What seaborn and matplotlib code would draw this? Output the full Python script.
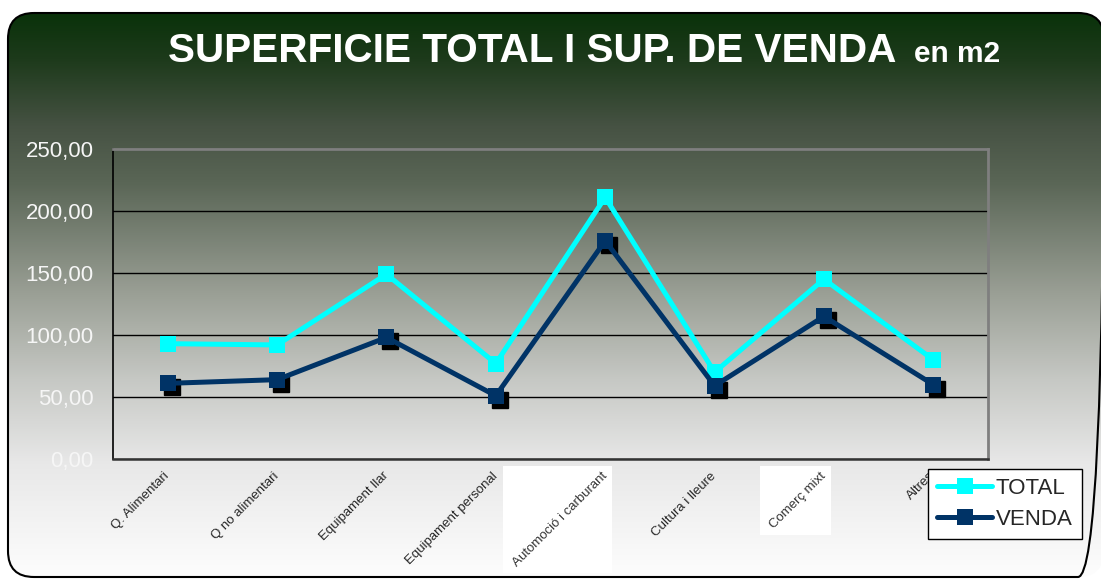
import numpy as np
import pandas as pd
import matplotlib
matplotlib.use('Agg')
import matplotlib.pyplot as plt
import matplotlib.transforms as mtransforms
from matplotlib.colors import LinearSegmentedColormap
from matplotlib.patches import FancyBboxPatch, Rectangle
from matplotlib.lines import Line2D
import seaborn as sns

# Data
categories = ['Q. Alimentari', 'Q no alimentari', 'Equipament llar', 'Equipament personal',
              'Automoció i carburant', 'Cultura i lleure', 'Comerç mixt', 'Altres']
total = [93, 92, 149, 77, 211, 70, 145, 80]
venda = [61, 64, 98, 51, 176, 59, 115, 60]
y_ticks = [0, 50, 100, 150, 200, 250]
boxed_labels = ['Automoció i carburant', 'Comerç mixt']

df = pd.DataFrame({
    'cat': categories * 2,
    'value': total + venda,
    'serie': ['TOTAL'] * len(categories) + ['VENDA'] * len(categories),
})

sns.set_style('white')
plt.rcParams['font.family'] = ['Liberation Sans', 'DejaVu Sans']

W, H = 1101, 579
fig = plt.figure(figsize=(W / 100, H / 100), dpi=100)
fig.patch.set_facecolor('white')

# background panel with rounded corners and green -> white gradient
bg = fig.add_axes([0, 0, 1, 1], zorder=-10)
bg.set_xlim(0, W)
bg.set_ylim(H, 0)
bg.axis('off')
grad_cmap = LinearSegmentedColormap.from_list('bg', [
    (0.0, '#0a320a'), (0.08, '#1d3a1b'), (0.2, '#465243'), (0.3, '#5a6656'),
    (0.5, '#9ba096'), (0.65, '#c6c8c4'), (0.8, '#e8e8e8'), (1.0, '#fdfdfd')])
grad = np.linspace(0, 1, 256).reshape(-1, 1)
img = bg.imshow(grad, extent=[8, 1104, 577, 13], aspect='auto', cmap=grad_cmap, origin='upper')
panel = FancyBboxPatch((8, 13), 1096, 564, boxstyle='round,pad=0,rounding_size=26',
                       facecolor='none', edgecolor='black', linewidth=1.5, clip_on=False)
bg.add_patch(panel)
img.set_clip_path(panel)

fig.text(168 / W, 1 - 62 / H, 'SUPERFICIE TOTAL I SUP. DE VENDA', color='white',
         fontsize=29.2, fontweight='bold', va='baseline', ha='left')
fig.text(914 / W, 1 - 62 / H, 'en m2', color='white',
         fontsize=21.5, fontweight='bold', va='baseline', ha='left')

ax = fig.add_axes([113 / W, 1 - 459 / H, 875 / W, 310 / H])
ax.set_facecolor('none')

# shadow under the VENDA markers
shadow = mtransforms.offset_copy(ax.transData, fig=fig, x=4, y=-4, units='dots')
ax.plot(categories, venda, 's', color='black', markersize=11, transform=shadow, zorder=2)

sns.lineplot(data=df, x='cat', y='value', hue='serie', style='serie',
             palette={'TOTAL': '#00ffff', 'VENDA': '#003366'},
             markers={'TOTAL': 's', 'VENDA': 's'}, dashes=False,
             linewidth=3.6, markersize=11, markeredgewidth=0, ax=ax, zorder=3,
             legend=False)

ax.set_xlim(-0.5, len(categories) - 0.5)
ax.set_ylim(0, 250)
ax.set_yticks(y_ticks)
ax.set_yticklabels([f'{v:,.2f}'.replace('.', ',') for v in y_ticks], color='#f6f6f6', fontsize=16)
ax.set_xticks(range(len(categories)))
ax.set_xticklabels(categories, rotation=45, ha='right', va='center',
                   rotation_mode='anchor', fontsize=9.5)
ax.set_xticks(np.arange(-0.5, len(categories)), minor=True)
ax.tick_params(axis='x', which='major', length=0, pad=11)
ax.tick_params(axis='x', which='minor', length=4, color='black', direction='out')
ax.tick_params(axis='y', length=6, color='black', direction='out', pad=8)
ax.set_xlabel('')
ax.set_ylabel('')
ax.grid(axis='y', color='black', linewidth=1.0)
ax.grid(axis='x', visible=False)

ax.spines['left'].set_color('black')
ax.spines['left'].set_linewidth(1.2)
ax.spines['bottom'].set_color('#333333')
ax.spines['bottom'].set_linewidth(1.8)
for s in ('top', 'right'):
    ax.spines[s].set_color('#7f7f7f')
    ax.spines[s].set_linewidth(2)

# white, axis-aligned boxes behind two of the category labels
fig.canvas.draw()
for lbl in ax.get_xticklabels():
    if lbl.get_text() in boxed_labels:
        lbl.set_color('#333333')
        bb = lbl.get_window_extent()
        fig.patches.append(Rectangle((bb.x0 - 7, bb.y0 - 4), bb.width + 10, bb.height + 8,
                                     transform=None, facecolor='white', edgecolor='none',
                                     zorder=-5, figure=fig))

# legend
handles = [Line2D([], [], color='#00ffff', marker='s', linewidth=3.6, markersize=11, markeredgewidth=0),
           Line2D([], [], color='#003366', marker='s', linewidth=3.6, markersize=11, markeredgewidth=0)]
leg = fig.legend(handles, ['TOTAL', 'VENDA'], loc='upper left',
                 bbox_to_anchor=(928 / W, 1 - 469 / H), fontsize=16,
                 frameon=True, fancybox=False, framealpha=1, edgecolor='black',
                 handlelength=2.5, handletextpad=0.15, borderpad=0.4, labelspacing=0.45,
                 borderaxespad=0)
leg.get_frame().set_linewidth(1.0)

fig.savefig('out.png', dpi=100)
